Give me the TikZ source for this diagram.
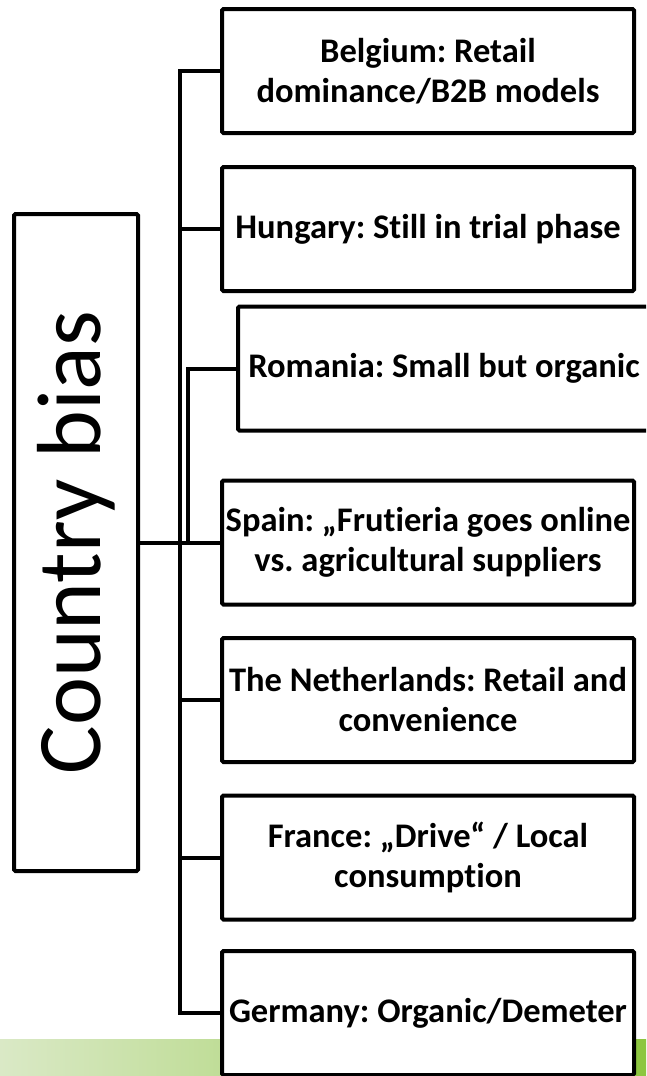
\documentclass[tikz,border=0pt]{standalone}
\usepackage{fontspec}
\setmainfont{Carlito}[Ligatures=NoCommon]
\usepackage{graphicx}
\usepackage{xcolor}
\definecolor{barlight}{HTML}{DAE9C6}
\definecolor{barmid}{HTML}{B2D57D}
\definecolor{bardark}{HTML}{8DC63F}
\frenchspacing

\begin{document}
\begin{tikzpicture}[x=1pt, y=-1pt,
    country/.style={draw, line width=4pt, rounded corners=1.5pt, fill=white,
        minimum width=\boxw, minimum height=\boxh, inner sep=0pt, align=center,
        font=\fontsize{34.5}{40}\selectfont\bfseries},
    biasbox/.style={draw, line width=4pt, rounded corners=1.5pt, fill=white,
        minimum width=124pt, minimum height=657pt, inner sep=0pt,
        font=\fontsize{91}{100}\selectfont},
    link/.style={line width=4pt}]
    \def\boxw{412pt};
    \def\boxh{124pt};
    \def\xb{428};
    \useasboundingbox (0,0) rectangle (646,1076);
    \clip (0,0) rectangle (646,1076);
    % green band at the bottom
    \shade[left color=barlight, middle color=barmid, right color=bardark] (0,1039) rectangle (646,1076);
    \node[biasbox] at (76, 542.5) (bias) {\rotatebox{90}{Country bias}};
    \node[country] at (\xb, 71) (bel) {Belgium: Retail\\dominance/B2B models};
    \node[country] at (\xb, 229) (hun) {Hungary: Still in trial phase};
    \node[country] at (\xb+16, 368.5) (rom) {Romania: Small but organic};
    \node[country] at (\xb, 542.5) (spa) {Spain: „Frutieria goes online\\vs. agricultural suppliers};
    \node[country] at (\xb, 700) (net) {The Netherlands: Retail and\\convenience};
    \node[country] at (\xb, 857.5) (fra) {France: „Drive“ / Local\\consumption};
    \node[country] at (\xb, 1013) (ger) {Germany: Organic/Demeter};
    \coordinate (spine) at (180, 0);
    \coordinate (fork) at (188, 0);
    \draw[link] (bel.west) -| (spine |- ger.west) -- (ger.west);
    \draw[link] (hun.west) -- (hun.west -| spine);
    \draw[link] (net.west) -- (net.west -| spine);
    \draw[link] (fra.west) -- (fra.west -| spine);
    \draw[link] (rom.west) -| (fork |- spa.west);
    \draw[link] (bias.east) -- (spa.west);
\end{tikzpicture}
\end{document}
